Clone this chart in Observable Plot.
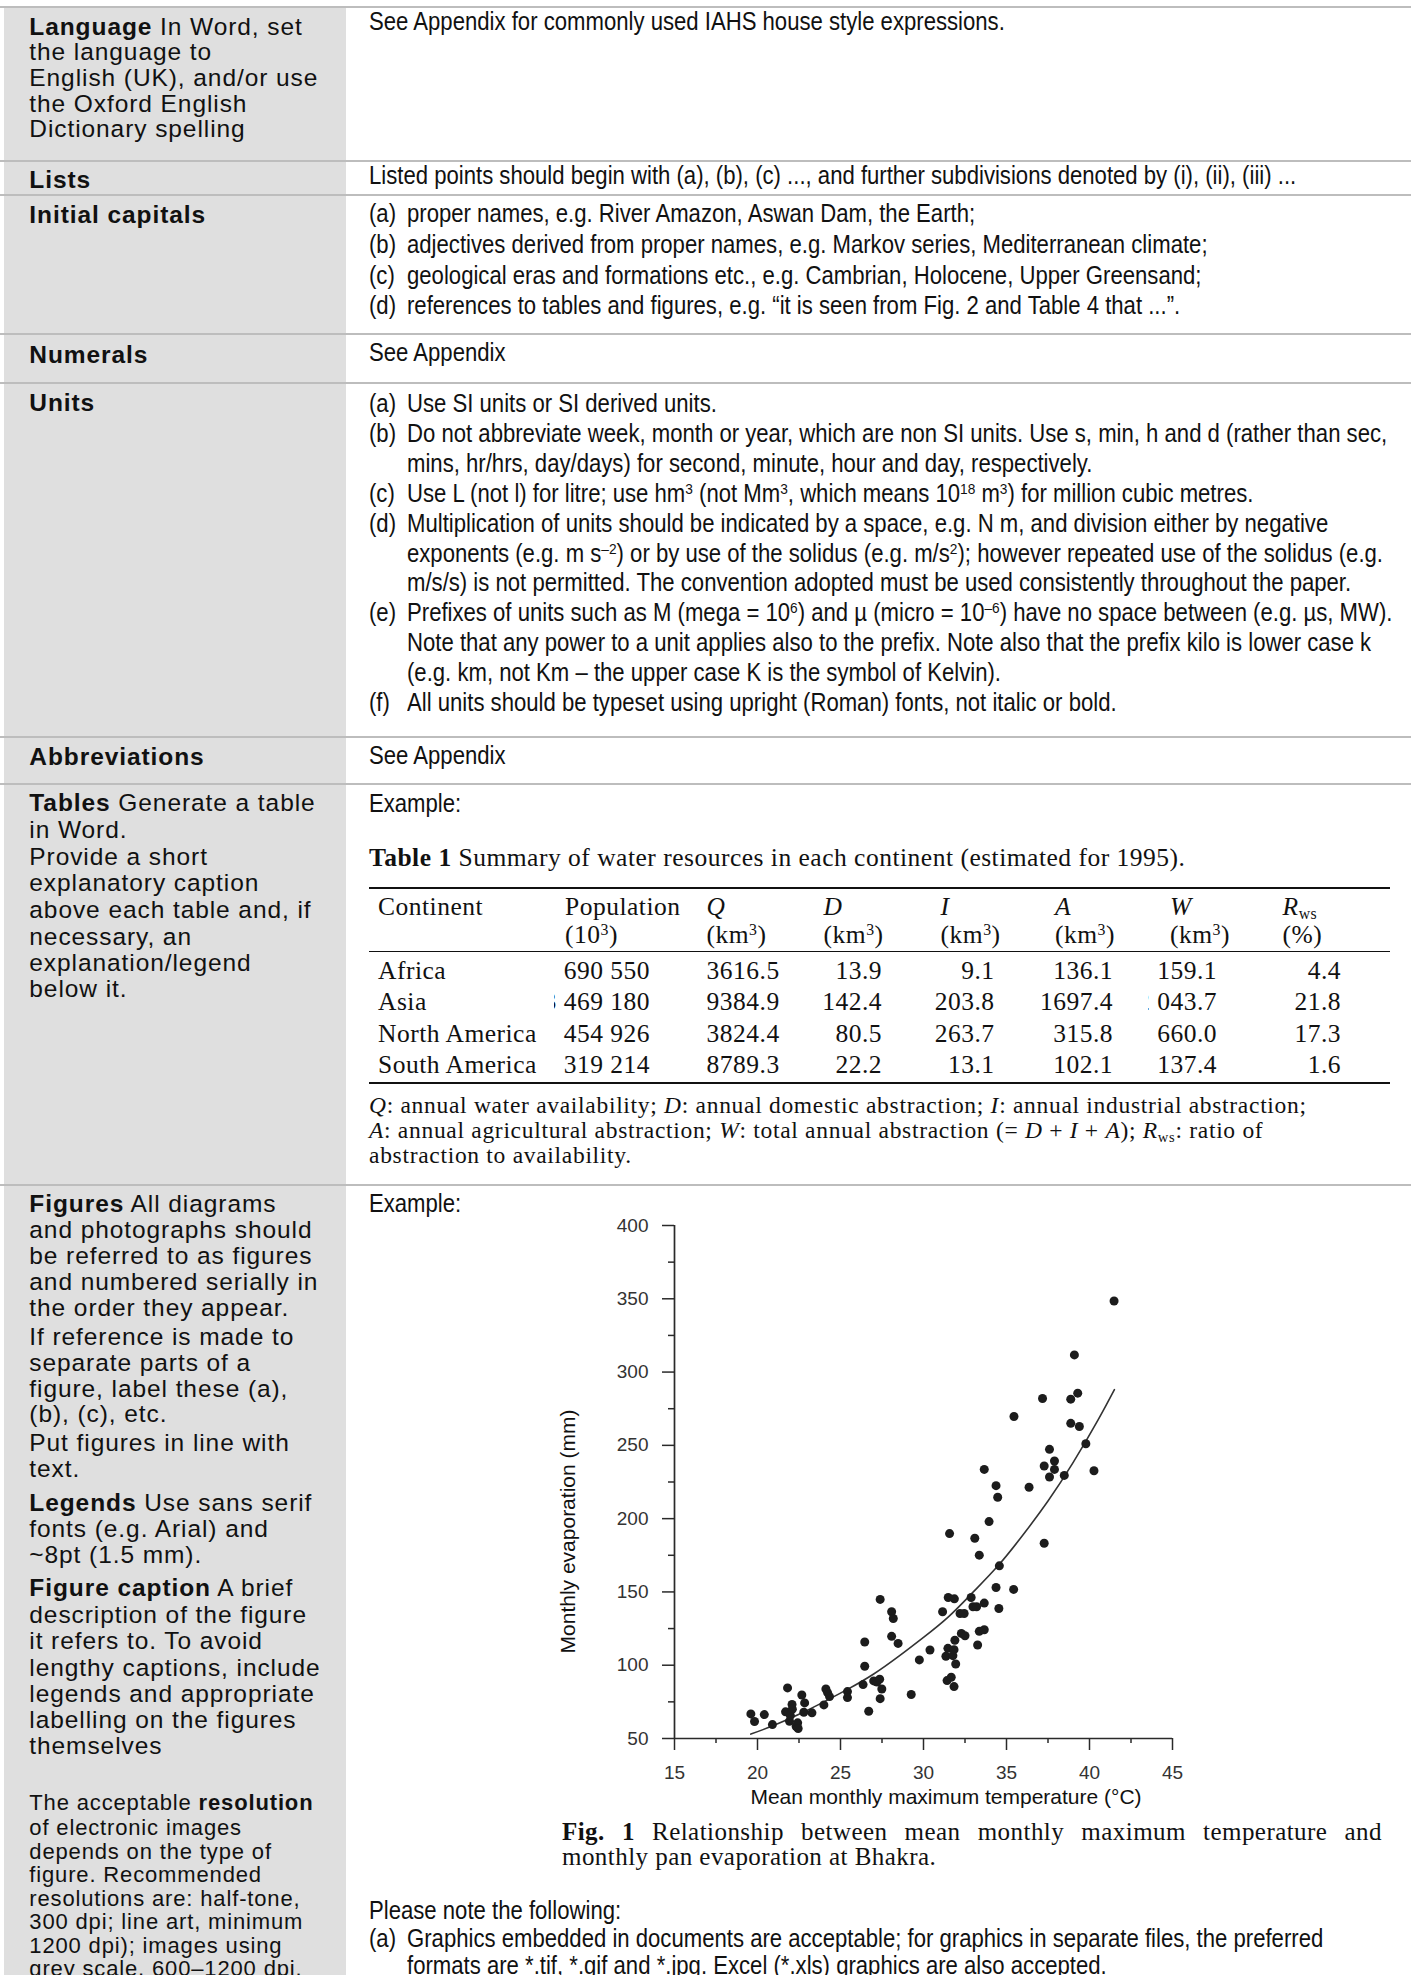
<!DOCTYPE html>
<html><head><meta charset="utf-8">
<script src="https://cdn.jsdelivr.net/npm/d3@7"></script>
<script src="https://cdn.jsdelivr.net/npm/@observablehq/plot@0.6"></script>
<style>
html,body{margin:0;padding:0;background:#fff;}
#page{position:relative;width:1411px;height:1975px;overflow:hidden;background:#fff;}
.ln{position:absolute;white-space:nowrap;color:#111;}
.l{font-family:"Liberation Sans",Arial,sans-serif;font-size:24.5px;letter-spacing:0.92px;}
.ls{font-family:"Liberation Sans",Arial,sans-serif;font-size:22px;letter-spacing:0.85px;}
.r{font-family:"Liberation Sans",Arial,sans-serif;font-size:25px;transform:scaleX(0.885);transform-origin:0 50%;}
.s{font-family:"Liberation Serif","Times New Roman",serif;font-size:25.5px;letter-spacing:0.5px;}
.c{font-family:"Liberation Serif","Times New Roman",serif;font-size:25px;letter-spacing:0.45px;}
.f{font-family:"Liberation Serif","Times New Roman",serif;font-size:23.5px;letter-spacing:0.7px;}
.rule{position:absolute;left:0;width:1411px;height:2px;background:#bdbdbd;}
.trule{position:absolute;left:369px;width:1021px;background:#111;}
.clip{position:absolute;overflow:hidden;}
.clip span{position:absolute;right:0;top:0;white-space:nowrap;}
sup{font-size:0.62em;line-height:0;vertical-align:0.5em;}
sub{font-size:0.62em;line-height:0;vertical-align:-0.25em;}
#gray{position:absolute;left:4px;top:8px;width:342px;height:1967px;background:#dfdfdf;}
#chart{position:absolute;left:540px;top:1210px;}
</style>
</head>
<body>
<div id="page"><div id="gray"></div></div>
<script>
// ---------------- chart data ----------------
const temperature = [19.6,19.82,20.41,20.9,21.69,21.81,21.93,21.98,22.08,22.1,22.33,22.42,22.45,22.67,22.79,22.84,23.28,24.0,24.12,24.22,24.34,25.42,25.42,26.36,26.46,26.46,26.7,27.0,27.2,27.36,27.49,27.39,27.39,28.08,28.18,28.08,28.47,29.26,29.75,30.39,31.15,31.35,31.42,31.47,31.49,31.67,31.77,31.84,31.84,31.86,31.89,31.94,32.28,32.2,32.5,32.45,32.87,32.98,33.2,33.26,33.36,33.66,33.66,34.37,34.54,35.43,34.57,33.36,33.09,31.57,33.95,37.27,41.48,39.09,37.17,38.87,39.29,35.45,38.87,39.39,39.78,37.59,37.27,37.89,37.89,37.59,38.48,40.27,33.66,34.37,34.47,36.36];
const evaporation = [66.8,61.6,66.3,59.5,68.2,84.5,61.8,65.7,73.2,70.0,58.2,60.7,56.8,79.7,67.9,74.3,67.5,72.9,83.8,81.3,78.6,82.0,77.9,86.8,99.3,115.8,68.6,89.3,88.5,90.5,83.8,77.2,144.9,136.5,131.9,119.7,114.9,80.0,103.6,110.4,136.5,106.1,89.5,111.5,146.2,91.8,106.5,110.6,85.4,145.3,117.0,100.8,121.7,135.3,120.1,135.3,146.2,139.9,139.9,113.8,123.1,124.2,142.4,153.0,138.7,151.7,167.8,175.1,186.6,189.8,198.0,183.2,348.5,311.7,282.0,281.5,285.6,269.7,265.0,262.9,251.1,247.3,235.9,239.3,233.6,228.4,229.5,232.7,233.6,222.5,214.6,221.4];
const fitTemperature = [19.6,21,22.5,24,25.5,27,28.5,30,31.5,33,34.5,36,37.5,39,40.5,41.5];
const fitEvaporation = [53,59,66.5,75,84,94,106,119,133,150,168,189,212,238,267,288];
const xMajorTicks = [15,20,25,30,35,40,45];
const xMinorTicks = [17.5,22.5,27.5,32.5,37.5,42.5];
const yMajorTicks = [50,100,150,200,250,300,350,400];
const yMinorTicks = [75,125,175,225,275,325,375];
const xTitle = "Mean monthly maximum temperature (°C)";
const yTitle = "Monthly evaporation (mm)";

// ---------------- table data ----------------
const continents = ["Africa","Asia","North America","South America"];
const population = ["690 550","3 469 180","454 926","319 214"];
const availQ = ["3616.5","9384.9","3824.4","8789.3"];
const domesticD = ["13.9","142.4","80.5","22.2"];
const industrialI = ["9.1","203.8","263.7","13.1"];
const agriculturalA = ["136.1","1697.4","315.8","102.1"];
const totalW = ["159.1","2 043.7","660.0","137.4"];
const ratioRws = ["4.4","21.8","17.3","1.6"];

const page = document.getElementById("page");
function put(x, cy, html, cls, lh) {
  const d = document.createElement("div");
  d.className = "ln " + cls;
  d.style.left = x + "px";
  d.style.top = (cy - lh / 2) + "px";
  d.style.lineHeight = lh + "px";
  d.innerHTML = html;
  page.appendChild(d);
  return d;
}
function putR(xr, cy, html, cls, lh) {
  const d = put(0, cy, html, cls, lh);
  d.style.left = "auto";
  d.style.right = (1411 - xr) + "px";
  return d;
}
function putClip(xl, xr, cy, html, cls, lh) {
  const c = document.createElement("div");
  c.className = "clip " + cls;
  c.style.left = xl + "px";
  c.style.width = (xr - xl) + "px";
  c.style.top = (cy - lh / 2) + "px";
  c.style.height = lh + "px";
  c.style.lineHeight = lh + "px";
  c.style.color = "#111";
  c.innerHTML = "<span>" + html + "</span>";
  page.appendChild(c);
}
function rule(y) {
  const d = document.createElement("div");
  d.className = "rule";
  d.style.top = (y - 1) + "px";
  page.appendChild(d);
}
function trule(y, h) {
  const d = document.createElement("div");
  d.className = "trule";
  d.style.top = (y - h / 2) + "px";
  d.style.height = h + "px";
  page.appendChild(d);
}

[7.3, 160.7, 195, 334, 382.7, 736.7, 784.3, 1184.5].forEach(rule);

// ---------------- left column ----------------
const leftLines = [
  [26.7, "<b>Language</b> In Word, set"], [52.3, "the language to"], [78, "English (UK), and/or use"],
  [103.7, "the Oxford English"], [129.3, "Dictionary spelling"],
  [180, "<b>Lists</b>"], [215, "<b>Initial capitals</b>"], [355, "<b>Numerals</b>"], [403, "<b>Units</b>"],
  [756.7, "<b>Abbreviations</b>"],
  [803.3, "<b>Tables</b> Generate a table"], [829.5, "in Word."], [857, "Provide a short"],
  [883.3, "explanatory caption"], [910, "above each table and, if"], [936.5, "necessary, an"],
  [962.7, "explanation/legend"], [988.5, "below it."],
  [1204, "<b>Figures</b> All diagrams"], [1230, "and photographs should"], [1256, "be referred to as figures"],
  [1282, "and numbered serially in"], [1308.3, "the order they appear."],
  [1336.7, "If reference is made to"], [1362.7, "separate parts of a"], [1388.5, "figure, label these (a),"],
  [1414.3, "(b), (c), etc."], [1443.3, "Put figures in line with"], [1469, "text."],
  [1503.3, "<b>Legends</b> Use sans serif"], [1529.3, "fonts (e.g. Arial) and"], [1555.3, "~8pt (1.5 mm)."],
  [1588.2, "<b>Figure caption</b> A brief"], [1614.6, "description of the figure"], [1641, "it refers to. To avoid"],
  [1667.5, "lengthy captions, include"], [1693.7, "legends and appropriate"], [1720, "labelling on the figures"],
  [1745.5, "themselves"]
];
leftLines.forEach(([y, h]) => put(29.3, y, h, "l", 26));
const leftSmall = [
  [1802.7, "The acceptable <b>resolution</b>"], [1828, "of electronic images"], [1852, "depends on the type of"],
  [1875, "figure. Recommended"], [1898.6, "resolutions are: half-tone,"], [1921.5, "300 dpi; line art, minimum"],
  [1945.7, "1200 dpi); images using"], [1968.5, "grey scale, 600–1200 dpi."]
];
leftSmall.forEach(([y, h]) => put(29.3, y, h, "ls", 23.7));

// ---------------- right column ----------------
const RX = 369, IX = 406.7;
const rightLines = [
  [RX, 21, "See Appendix for commonly used IAHS house style expressions."],
  [RX, 175, "Listed points should begin with (a), (b), (c) ..., and further subdivisions denoted by (i), (ii), (iii) ..."],
  [RX, 213.3, "(a)"], [IX, 213.3, "proper names, e.g. River Amazon, Aswan Dam, the Earth;"],
  [RX, 243.5, "(b)"], [IX, 243.5, "adjectives derived from proper names, e.g. Markov series, Mediterranean climate;"],
  [RX, 274.5, "(c)"], [IX, 274.5, "geological eras and formations etc., e.g. Cambrian, Holocene, Upper Greensand;"],
  [RX, 305, "(d)"], [IX, 305, "references to tables and figures, e.g. “it is seen from Fig. 2 and Table 4 that ...”."],
  [RX, 352, "See Appendix"],
  [RX, 403.3, "(a)"], [IX, 403.3, "Use SI units or SI derived units."],
  [RX, 433.2, "(b)"], [IX, 433.2, "Do not abbreviate week, month or year, which are non SI units. Use s, min, h and d (rather than sec,"],
  [IX, 463, "mins, hr/hrs, day/days) for second, minute, hour and day, respectively."],
  [RX, 492.9, "(c)"], [IX, 492.9, "Use L (not l) for litre; use hm<sup>3</sup> (not Mm<sup>3</sup>, which means 10<sup>18</sup> m<sup>3</sup>) for million cubic metres."],
  [RX, 522.7, "(d)"], [IX, 522.7, "Multiplication of units should be indicated by a space, e.g. N m, and division either by negative"],
  [IX, 552.6, "exponents (e.g. m s<sup>–2</sup>) or by use of the solidus (e.g. m/s<sup>2</sup>); however repeated use of the solidus (e.g."],
  [IX, 582.4, "m/s/s) is not permitted. The convention adopted must be used consistently throughout the paper."],
  [RX, 612.3, "(e)"], [IX, 612.3, "Prefixes of units such as M (mega = 10<sup>6</sup>) and µ (micro = 10<sup>–6</sup>) have no space between (e.g. µs, MW)."],
  [IX, 642.1, "Note that any power to a unit applies also to the prefix. Note also that the prefix kilo is lower case k"],
  [IX, 672, "(e.g. km, not Km – the upper case K is the symbol of Kelvin)."],
  [RX, 701.8, "(f)"], [IX, 701.8, "All units should be typeset using upright (Roman) fonts, not italic or bold."],
  [RX, 755, "See Appendix"],
  [RX, 803, "Example:"],
  [RX, 1203.3, "Example:"],
  [RX, 1910, "Please note the following:"],
  [RX, 1938.3, "(a)"], [IX, 1938.3, "Graphics embedded in documents are acceptable; for graphics in separate files, the preferred"],
  [IX, 1965, "formats are *.tif, *.gif and *.jpg. Excel (*.xls) graphics are also accepted."]
];
rightLines.forEach(([x, y, h]) => put(x, y, h, "r", 30));

// ---------------- table ----------------
put(369, 858, "<b>Table 1</b> Summary of water resources in each continent (estimated for 1995).", "s", 28);
trule(887.7, 2.2);
const colX = [378, 565, 706.5, 823.6, 940.6, 1055, 1170, 1282.6];
const head1 = ["Continent", "Population", "<i>Q</i>", "<i>D</i>", "<i>I</i>", "<i>A</i>", "<i>W</i>", "<i>R</i><sub>ws</sub>"];
const head2 = ["", "(10<sup>3</sup>)", "(km<sup>3</sup>)", "(km<sup>3</sup>)", "(km<sup>3</sup>)", "(km<sup>3</sup>)", "(km<sup>3</sup>)", "(%)"];
head1.forEach((h, i) => put(colX[i], 906.7, h, "s", 28));
head2.forEach((h, i) => { if (h) put(colX[i], 935, h, "s", 28); });
trule(951.7, 1.4);
const rowY = [970.5, 1002, 1033.5, 1065];
continents.forEach((c, i) => {
  const y = rowY[i];
  put(378, y, c, "s", 30);
  putClip(554, 650, y, population[i], "s", 30);
  put(706.5, y, availQ[i], "s", 30);
  putR(882, y, domesticD[i], "s", 30);
  putR(994.6, y, industrialI[i], "s", 30);
  putR(1113, y, agriculturalA[i], "s", 30);
  putClip(1148, 1217, y, totalW[i], "s", 30);
  putR(1341, y, ratioRws[i], "s", 30);
});
trule(1083, 2.2);
put(369, 1105, "<i>Q</i>: annual water availability; <i>D</i>: annual domestic abstraction; <i>I</i>: annual industrial abstraction;", "f", 25);
put(369, 1130, "<i>A</i>: annual agricultural abstraction; <i>W</i>: total annual abstraction (= <i>D</i> + <i>I</i> + <i>A</i>); <i>R</i><sub>ws</sub>: ratio of", "f", 25);
put(369, 1155, "abstraction to availability.", "f", 25);

// ---------------- figure caption ----------------
const cap = put(562, 1831.7, "<b>Fig. 1</b> Relationship between mean monthly maximum temperature and", "c", 26);
cap.style.width = "820px";
cap.style.whiteSpace = "normal";
cap.style.textAlign = "justify";
cap.style.textAlignLast = "justify";
put(562, 1856.7, "monthly pan evaporation at Bhakra.", "c", 26);

// ---------------- chart ----------------
const points = temperature.map((t, i) => ({t, e: evaporation[i]}));
const fit = fitTemperature.map((t, i) => ({t, e: fitEvaporation[i]}));
const ink = "#2a2a2a";
const chart = Plot.plot({
  width: 680,
  height: 610,
  marginLeft: 134,
  marginRight: 48,
  marginTop: 15,
  marginBottom: 82,
  x: {domain: [15, 45], label: null},
  y: {domain: [50, 400], label: null},
  style: {
    fontFamily: "'Liberation Sans Narrow', 'Liberation Sans', Arial, sans-serif",
    fontSize: "19px",
    color: ink,
    background: "transparent",
    overflow: "visible"
  },
  marks: [
    Plot.axisX({ticks: xMinorTicks, tickSize: 5, fill: null, stroke: ink, strokeWidth: 1.5, label: null}),
    Plot.axisY({ticks: yMinorTicks, tickSize: 6, fill: null, stroke: ink, strokeWidth: 1.5, label: null}),
    Plot.axisX({ticks: xMajorTicks, tickSize: 12, tickPadding: 15, tickFormat: d => String(d), stroke: ink, strokeWidth: 1.5, fill: "#333", label: null}),
    Plot.axisY({ticks: yMajorTicks, tickSize: 12, tickPadding: 14, tickFormat: d => String(d), stroke: ink, strokeWidth: 1.5, fill: "#333", label: null}),
    Plot.ruleX([15], {y1: 50, y2: 400, stroke: ink, strokeWidth: 1.7}),
    Plot.ruleY([50], {x1: 15, x2: 45, stroke: ink, strokeWidth: 1.7}),
    Plot.line(fit, {x: "t", y: "e", curve: "natural", stroke: "#333", strokeWidth: 1.6}),
    Plot.dot(points, {x: "t", y: "e", r: 4.5, fill: "#1c1c1c", stroke: null}),
    Plot.text([xTitle], {text: d => d, frameAnchor: "bottom", dx: 22.5, dy: 59, fontSize: 21, fontFamily: "'Liberation Sans', Arial, sans-serif", fill: "#111", textAnchor: "middle", lineAnchor: "middle"}),
    Plot.text([yTitle], {text: d => d, frameAnchor: "left", rotate: -90, dx: -106, dy: 49.5, fontSize: 21, fontFamily: "'Liberation Sans', Arial, sans-serif", fill: "#111", textAnchor: "middle", lineAnchor: "middle"})
  ]
});
const holder = document.createElement("div");
holder.id = "chart";
holder.appendChild(chart);
page.appendChild(holder);
</script>
</body></html>
